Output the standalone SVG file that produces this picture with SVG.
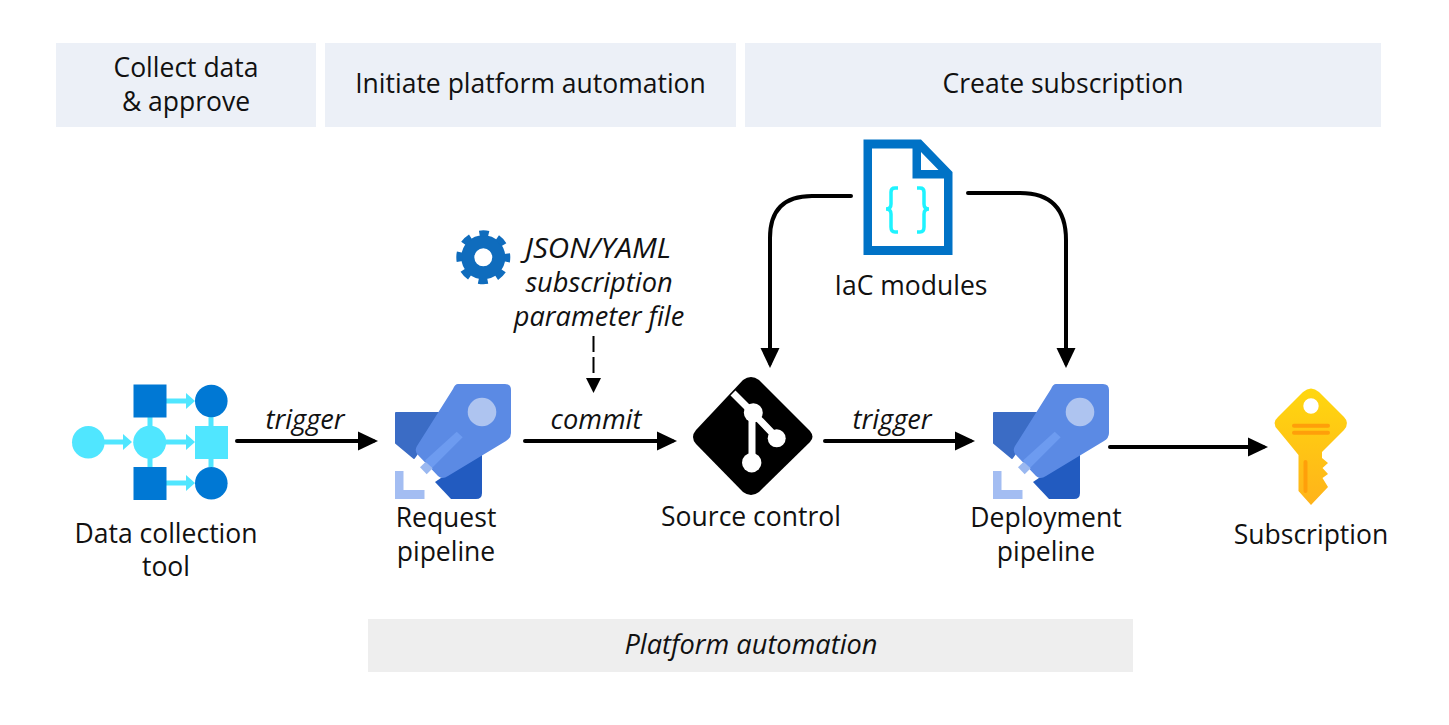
<svg xmlns="http://www.w3.org/2000/svg" width="1449" height="725" viewBox="0 0 1449 725">
<style>
text{font-family:"Open Sans","Noto Sans","Liberation Sans",sans-serif;font-size:26.500px;fill:#111;text-anchor:middle}
text.i{font-style:italic;font-size:27.200px}
.band{fill:#ecf0f7}
.conn{fill:none;stroke:#000;stroke-width:4;stroke-linecap:round}
</style>
<defs>
<marker id="ah" markerUnits="userSpaceOnUse" markerWidth="22" markerHeight="22" refX="15" refY="10" orient="auto"><path d="M0 0.500L20 10L0 19.500z" fill="#000"/></marker>
<linearGradient id="kg" x1="0" y1="0" x2="0" y2="1"><stop offset="0" stop-color="#ffd70f"/><stop offset="1" stop-color="#ffb31a"/></linearGradient>
<g id="rocket">
<path d="M396 413H445L414 458L396 443z" fill="#3b6cc5" stroke="#3b6cc5" stroke-width="2" stroke-linejoin="round"/>
<path d="M482 450V493Q482 499 476 499H451L435 482z" fill="#225bc0"/>
<path d="M458 384H505Q511 384 511 390V433Q511 438 506 441L448 476Q442 480 438 476L418 455Q414 451 417 446L453 389Q455 384 458 384z" fill="#5b8ae4"/>
<circle cx="482" cy="412" r="14.300" fill="#aec4f0"/>
<path d="M456.700 431.700L462.700 437.300L431.700 468.300L425 460.500z" fill="#6d9bf0"/>
<path d="M420 467.300L425.700 461.700L432.700 468.300L426.700 474.300z" fill="#9ab8f0"/>
<path d="M395 471H403.500V490H424.500V499H395z" fill="#a3bdf2"/>
</g>
</defs>
<g id="header-collect"><rect class="band" x="56" y="43" width="260" height="84"/><text x="186" y="77">Collect data</text><text x="186" y="111">&amp; approve</text></g>
<g id="header-initiate"><rect class="band" x="325" y="43" width="411" height="84"/><text x="530.500" y="93">Initiate platform automation</text></g>
<g id="header-create"><rect class="band" x="745" y="43" width="636" height="84"/><text x="1063" y="93">Create subscription</text></g>
<g id="platform-band"><rect x="368" y="619" width="765" height="53" fill="#eeeeee"/><text class="i" x="751" y="654">Platform automation</text></g>
<g id="connectors">
<path class="conn" d="M237 441H373" marker-end="url(#ah)"/>
<path class="conn" d="M525 441H672" marker-end="url(#ah)"/>
<path class="conn" d="M825 441H970" marker-end="url(#ah)"/>
<path class="conn" d="M1110 447H1263" marker-end="url(#ah)"/>
<path class="conn" d="M851 196H812Q770 196 770 238V363" marker-end="url(#ah)"/>
<path class="conn" d="M968 193H1020Q1066 193 1066 240V363" marker-end="url(#ah)"/>
<path d="M593.500 336V378" fill="none" stroke="#000" stroke-width="2" stroke-dasharray="16 5"/>
<path d="M586 378H601L593.500 393z" fill="#000"/>
</g>
<g id="data-tool">
<g fill="none" stroke="#50e6ff" stroke-width="5">
<path d="M150 417V467M211 417V467M100 442H124M166 401H187M166 442H187M166 483H187"/>
</g>
<g fill="#50e6ff"><path d="M123 434L132 442L123 450zM186 393L195 401L186 409zM186 434L195 442L186 450zM186 475L195 483L186 491z"/>
<circle cx="88.300" cy="442.300" r="16.300"/><circle cx="149.700" cy="442.300" r="16.500"/><rect x="195" y="426" width="33" height="33"/></g>
<g fill="#0078d4"><rect x="133.500" y="384.500" width="33" height="33"/><rect x="133.500" y="467" width="33" height="33"/><circle cx="211.300" cy="401" r="16.300"/><circle cx="211.300" cy="483.300" r="16.300"/></g>
<text x="166" y="543">Data collection</text><text x="166" y="576">tool</text>
</g>
<g id="request-pipeline"><use href="#rocket"/><text x="446" y="527">Request</text><text x="446" y="561">pipeline</text></g>
<g id="parameter-file">
<circle cx="483.300" cy="257.300" r="15.500" fill="none" stroke="#0f6cbd" stroke-width="13"/>
<circle cx="483.300" cy="257.300" r="24" fill="none" stroke="#0f6cbd" stroke-width="6" stroke-dasharray="9.500 9.350" stroke-dashoffset="4.750"/>
<text class="i" x="598" y="258" textLength="146" lengthAdjust="spacingAndGlyphs">JSON/YAML</text><text class="i" x="599" y="292">subscription</text><text class="i" x="599" y="326">parameter file</text>
</g>
<g id="source-control">
<path d="M743 380Q751 374 759 380L810 431Q815 437 810 442L759 492Q751 498 743 492L696 444Q690 437 696 430z" fill="#000"/>
<path d="M733 393L753 413L777 438M752 413V463" fill="none" stroke="#fff" stroke-width="7"/>
<circle cx="753.300" cy="412.700" r="9.500" fill="#fff"/><circle cx="776.700" cy="438.300" r="9" fill="#fff"/><circle cx="751.700" cy="462.700" r="9.700" fill="#fff"/>
<text x="751" y="526">Source control</text>
</g>
<g id="iac-modules">
<path fill-rule="evenodd" d="M863.500 139.500H921L952.500 172V255H863.500zM872 148.500V246H944V178.500H912.500V148.500zM921 152V170H938.500z" fill="#0072c6"/>
<path d="M898 188H895Q891 188 891 192V204Q891 209 886 209Q891 209 891 214V227Q891 232 895 232H898M917 188H920Q924 188 924 192V204Q924 209 929 209Q924 209 924 214V227Q924 232 920 232H917" fill="none" stroke="#1ef3ff" stroke-width="3.500"/>
<text x="911" y="295">IaC modules</text>
</g>
<g id="deployment-pipeline"><use href="#rocket" x="598"/><text x="1046" y="527">Deployment</text><text x="1046" y="561">pipeline</text></g>
<g id="subscription">
<path fill="url(#kg)" fill-rule="evenodd" d="M1303 392Q1311 385 1319 392L1344 417Q1350 423 1344 430L1322 452V458L1328 463L1322.500 468L1328 474L1322.500 478L1328 487L1311 505L1298.500 491V455L1278 430Q1271 423 1278 417zM1311 398.300A7.700 7.700 0 1 0 1311 413.700A7.700 7.700 0 1 0 1311 398.300z"/>
<path d="M1294 425.700H1328M1294 432.700H1328M1305.500 462V491" fill="none" stroke="#ff9f0a" stroke-width="4" stroke-linecap="round"/>
<text x="1311" y="544">Subscription</text>
</g>
<g id="labels"><text class="i" x="305" y="429">trigger</text><text class="i" x="596" y="429">commit</text><text class="i" x="892" y="429">trigger</text></g>
</svg>
